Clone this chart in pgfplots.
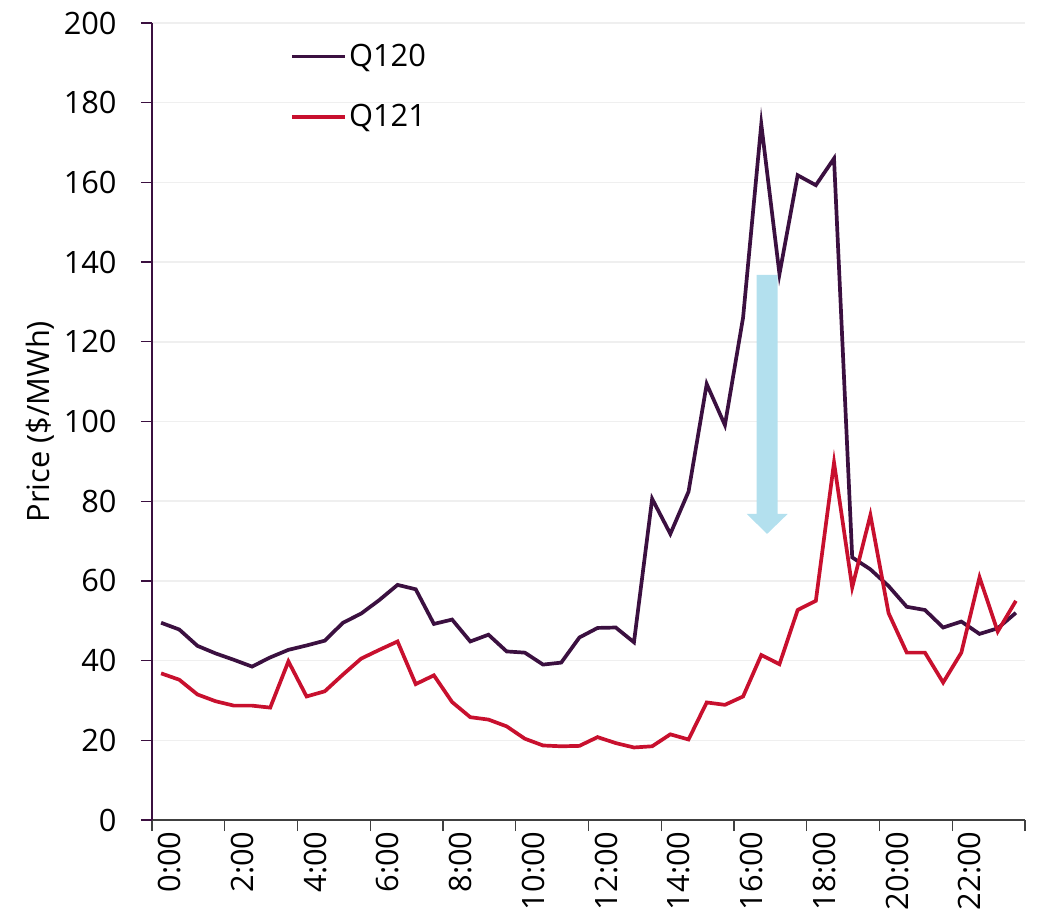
\documentclass[border=0pt]{standalone}
\usepackage{fontspec}
\setmainfont{Open Sans}
\usepackage{pgfplots}
\usepackage{pgfplotstable}
\pgfplotsset{compat=1.18}
\definecolor{qa}{HTML}{3B1040}
\definecolor{qb}{HTML}{C8102E}
\definecolor{arrowblue}{HTML}{B3E0EE}
\definecolor{gridgrey}{HTML}{EFEFEF}
\definecolor{axisgrey}{HTML}{404040}

% half-hourly prices, slot 0 = 0:00 ... slot 47 = 23:30
\pgfplotstableread{
i q120 q121
0 49.5 36.8
1 47.8 35.2
2 43.7 31.5
3 41.8 29.8
4 40.2 28.7
5 38.5 28.7
6 40.8 28.2
7 42.7 39.8
8 43.8 31.0
9 45.0 32.3
10 49.5 36.5
11 51.8 40.5
12 55.2 42.7
13 59.0 44.8
14 57.9 34.1
15 49.2 36.3
16 50.3 29.6
17 44.8 25.8
18 46.5 25.2
19 42.3 23.5
20 42.0 20.4
21 39.0 18.7
22 39.5 18.5
23 45.8 18.6
24 48.2 20.8
25 48.3 19.3
26 44.6 18.2
27 80.6 18.5
28 71.8 21.5
29 82.4 20.2
30 109.4 29.5
31 99.1 28.9
32 126.1 31.0
33 174.6 41.4
34 137.0 39.1
35 161.8 52.7
36 159.3 55.0
37 166.0 89.7
38 65.9 58.4
39 62.9 76.5
40 58.7 51.9
41 53.5 42.0
42 52.7 42.0
43 48.3 34.5
44 49.8 42.0
45 46.7 60.9
46 48.1 47.3
47 52.0 55.0
}\prices

\begin{document}
\begin{tikzpicture}
\begin{axis}[name=ax,
  width=436.5pt, height=398.5pt, scale only axis,
  xmin=-0.5, xmax=47.5, ymin=0, ymax=200,
  axis x line*=bottom, axis y line*=left,
  x axis line style={draw=axisgrey, line width=0.6pt},
  y axis line style={draw=qa, line width=0.6pt},
  xtick={-0.5,3.5,7.5,11.5,15.5,19.5,23.5,27.5,31.5,35.5,39.5,43.5,47.5},
  xticklabels={0:00,2:00,4:00,6:00,8:00,10:00,12:00,14:00,16:00,18:00,20:00,22:00,{}},
  ytick={0,20,...,200},
  tick align=outside, major tick length=5.5pt,
  xtick style={draw=axisgrey, line width=0.6pt},
  ytick style={draw=qa, line width=0.6pt},
  ymajorgrids, grid style={draw=gridgrey, line width=0.75pt},
  /pgf/number format/assume math mode=true,
  tick label style={font=\fontsize{15.4}{18}\selectfont, text=black},
  xticklabel style={rotate=90, anchor=north east, inner sep=0pt, yshift=-3pt},
  yticklabel style={anchor=east, inner sep=0pt, xshift=-12pt},
  ylabel={Price (\$/MWh)},
  ylabel style={font=\fontsize{15.4}{18}\selectfont, at={(axis description cs:0,0.5)}, anchor=center, yshift=56pt},
  legend style={draw=none, fill=none, at={(axis description cs:0.158,0.977)}, anchor=north west,
    font=\fontsize{15.4}{18}\selectfont, row sep=15.5pt, inner sep=0pt,
    nodes={inner sep=1pt}},
  legend cell align=left,
  legend image code/.code={\draw[#1, line width=1.85pt] (0pt,0pt) -- (26.5pt,0pt);},
]
\fill[arrowblue] (axis cs:32.75,136.8) -- (axis cs:33.9,136.8) -- (axis cs:33.9,76.8)
  -- (axis cs:34.45,76.8) -- (axis cs:33.32,71.8) -- (axis cs:32.2,76.8)
  -- (axis cs:32.75,76.8) -- cycle;
\addplot[qa, line width=1.85pt] table[x=i, y=q120] {\prices};
\addlegendentry{Q120}
\addplot[qb, line width=1.85pt] table[x=i, y=q121] {\prices};
\addlegendentry{Q121}
\end{axis}
\path (ax.north east) -- ++(6.5pt,11.5pt);
\path (ax.south west) -- ++(-76pt,-48pt);
\end{tikzpicture}
\end{document}
